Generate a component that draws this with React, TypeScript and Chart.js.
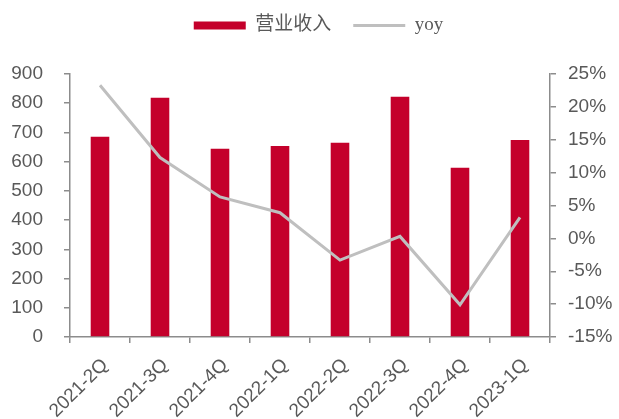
import React, { useEffect, useRef } from 'react';
import { Chart, registerables } from 'chart.js';

Chart.register(...registerables);

const categories = ['2021-2Q', '2021-3Q', '2021-4Q', '2022-1Q', '2022-2Q', '2022-3Q', '2022-4Q', '2023-1Q'];
const revenue = [685, 819, 644, 654, 665, 822, 579, 674];
const yoy = [23.3, 12.3, 6.3, 3.9, -3.3, 0.3, -10.1, 3.2];
const seriesNames = ['营业收入', 'yoy'];
const leftRange = [0, 900, 100];
const rightRange = [-15, 25, 5];

const BAR = '#C4002B';
const LINE = '#BFBFBF';
const AXIS = '#8c8c8c';
const TEXT = '#595959';
const W = 619;
const H = 419;

export default function App() {
  const ref = useRef<HTMLCanvasElement | null>(null);

  useEffect(() => {
    if (!ref.current) return;
    const legendTweak = {
      id: 'legendTweak',
      beforeInit(chart: any) {
        const legend = chart.legend;
        if (!legend) return;
        const fit = legend.fit;
        legend.fit = function () {
          fit.call(legend);
          legend.height = 74;
        };
        const draw = legend.draw;
        legend.draw = function (...args: any[]) {
          legend.left += 9; legend.right += 9; legend.top -= 6; legend.bottom -= 6;
          draw.apply(legend, args);
          legend.left -= 9; legend.right -= 9; legend.top += 6; legend.bottom += 6;
        };
      },
    };
    const tickFont = { family: "'Liberation Sans', Arial, sans-serif", size: 19 };
    const chart = new Chart(ref.current, {
      type: 'bar',
      data: {
        labels: categories,
        datasets: [
          {
            type: 'line',
            label: seriesNames[1],
            data: yoy,
            yAxisID: 'y1',
            borderColor: LINE,
            backgroundColor: LINE,
            borderWidth: 3,
            pointRadius: 0,
            tension: 0,
            order: 1,
          } as any,
          {
            type: 'bar',
            label: seriesNames[0],
            data: revenue,
            yAxisID: 'y',
            backgroundColor: BAR,
            categoryPercentage: 1,
            barPercentage: 0.31,
            order: 2,
          },
        ],
      },
      options: {
        responsive: false,
        animation: false,
        layout: { padding: 0 },
        plugins: {
          tooltip: { enabled: false },
          legend: {
            position: 'top',
            labels: {
              usePointStyle: true,
              pointStyleWidth: 52,
              boxHeight: 8,
              padding: 22,
              color: TEXT,
              font: { family: "'Liberation Serif', 'Noto Sans CJK SC', serif", size: 19 },
              generateLabels: () => [
                { text: seriesNames[0], fillStyle: BAR, strokeStyle: BAR, lineWidth: 0, pointStyle: 'rect', datasetIndex: 1, fontColor: TEXT, hidden: false },
                { text: seriesNames[1], fillStyle: LINE, strokeStyle: LINE, lineWidth: 3, pointStyle: 'line', datasetIndex: 0, fontColor: TEXT, hidden: false },
              ] as any,
            },
          },
        },
        scales: {
          x: {
            offset: true,
            grid: { display: true, offset: true, drawOnChartArea: false, drawTicks: true, tickLength: 6, color: AXIS, lineWidth: 1.5 },
            border: { display: true, color: AXIS, width: 1.5 },
            ticks: { color: TEXT, font: tickFont, maxRotation: 45, minRotation: 45, autoSkip: false, padding: 11, labelOffset: 5 },
            afterFit: (s: any) => { s.height = H - 337; },
          },
          y: {
            position: 'left',
            min: leftRange[0],
            max: leftRange[1],
            grid: { display: true, drawOnChartArea: false, drawTicks: true, tickLength: 6, color: AXIS, lineWidth: 1.5 },
            border: { display: true, color: AXIS, width: 1.5 },
            ticks: { stepSize: leftRange[2], color: TEXT, font: tickFont, padding: 21 },
            afterFit: (s: any) => { s.width = 70; },
          },
          y1: {
            position: 'right',
            min: rightRange[0],
            max: rightRange[1],
            grid: { display: true, drawOnChartArea: false, drawTicks: true, tickLength: 6, color: AXIS, lineWidth: 1.5 },
            border: { display: true, color: AXIS, width: 1.5 },
            ticks: { stepSize: rightRange[2], color: TEXT, font: tickFont, padding: 12, callback: (v: any) => `${v}%` },
            afterFit: (s: any) => { s.width = W - 550; },
          },
        },
      },
      plugins: [legendTweak],
    });
    return () => chart.destroy();
  }, []);

  return (
    <div style={{ position: 'fixed', left: 0, top: 0, width: W, height: H, background: '#fff' }}>
      <canvas ref={ref} width={W} height={H} style={{ display: 'block' }} />
    </div>
  );
}
